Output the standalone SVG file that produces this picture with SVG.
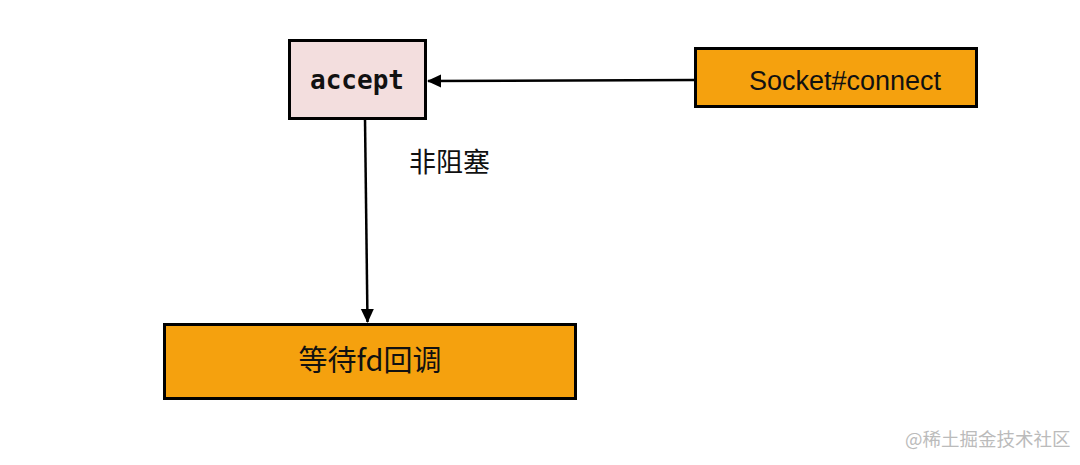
<svg xmlns="http://www.w3.org/2000/svg" width="1080" height="465" viewBox="0 0 1080 465">
<style>
.box{stroke:#000;stroke-width:3}
.orange{fill:#f5a10e}
.pink{fill:#f3dede}
.cjk{font-family:"Noto Sans CJK SC","Noto Sans",sans-serif;fill:#111}
.mono{font-family:"DejaVu Sans Mono","Liberation Mono",monospace;font-weight:bold;fill:#111}
.sans{font-family:"Liberation Sans",Arial,sans-serif;fill:#111}
.edge{stroke:#000;stroke-width:2.5;fill:none}
</style>
<defs>
<marker id="arr" markerWidth="14" markerHeight="14" refX="13" refY="7" orient="auto" markerUnits="userSpaceOnUse" viewBox="0 0 14 14">
<path d="M0,0.5 L14,7 L0,13.5 z" fill="#000"/>
</marker>
</defs>
<rect width="1080" height="465" fill="#fff"/>
<g id="accept">
<rect class="box pink" x="289.5" y="40.5" width="136" height="78"/>
<text class="mono" x="357" y="89" font-size="26" text-anchor="middle">accept</text>
</g>
<g id="socket-connect">
<rect class="box orange" x="695.5" y="48.5" width="281" height="58"/>
<text class="sans" x="845" y="90" font-size="27" text-anchor="middle">Socket#connect</text>
</g>
<g id="wait-fd">
<rect class="box orange" x="164.5" y="324.5" width="411" height="74"/>
<text class="cjk" x="370" y="371" font-size="29" text-anchor="middle">等待fd回调</text>
</g>
<g id="connectors">
<line class="edge" x1="695" y1="80" x2="428" y2="81" marker-end="url(#arr)"/>
<line class="edge" x1="365" y1="119" x2="367.5" y2="322" marker-end="url(#arr)"/>
<text class="cjk" x="409" y="172" font-size="27">非阻塞</text>
</g>
<text x="905" y="446" font-family="Noto Sans CJK SC,sans-serif" font-size="18.5" fill="#bbb">@稀土掘金技术社区</text>
</svg>
